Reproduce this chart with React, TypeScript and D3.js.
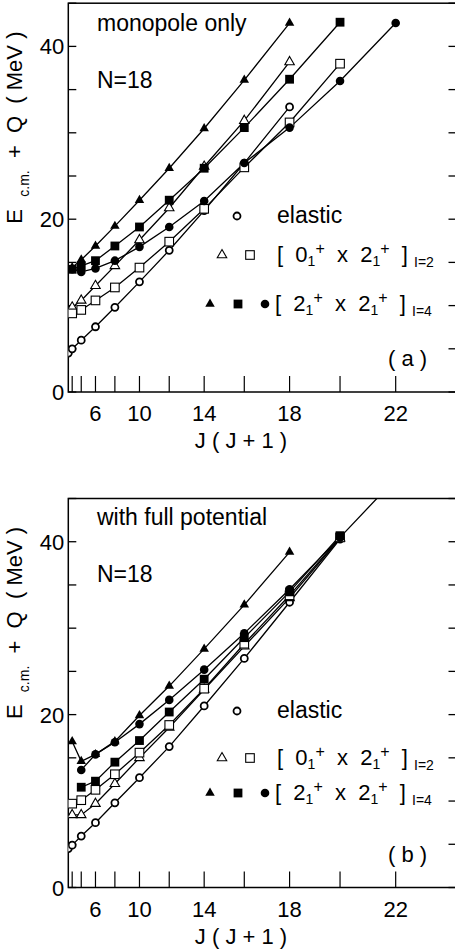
import React from "react";
import * as d3 from "d3";

// ---------- axis data ----------
const X_TICK_J = [2, 4, 6, 8, 10, 12, 14, 16, 18, 20, 22];
const X_LABEL_J = [6, 10, 14, 18, 22];
const Y_TICKS = [0, 5, 10, 15, 20, 25, 30, 35, 40, 45];
const Y_LABELS = [0, 20, 40];

// ---------- panel (a): monopole only ----------
const A_ELASTIC_J = [0, 2, 4, 6, 8, 10, 12, 14, 16, 18];
const A_ELASTIC_E = [4.5, 5.0, 6.0, 7.55, 9.8, 12.75, 16.4, 21.0, 26.5, 33.0];
const A_OPEN_TRI_J = [2, 4, 6, 8, 10, 12, 14, 16, 18];
const A_OPEN_TRI_E = [9.8, 10.6, 12.3, 14.6, 17.6, 21.3, 26.1, 31.4, 38.2];
const A_OPEN_SQ_J = [2, 4, 6, 8, 10, 12, 14, 16, 18, 20];
const A_OPEN_SQ_E = [9.1, 9.5, 10.6, 12.1, 14.4, 17.4, 21.2, 26.0, 31.2, 38.0];
const A_FILL_CIR_J = [2, 4, 6, 8, 10, 12, 14, 16, 18, 20, 22];
const A_FILL_CIR_E = [14.2, 13.9, 14.3, 15.2, 16.8, 19.1, 22.1, 26.5, 30.6, 36.0, 42.7];
const A_FILL_TRI_J = [2, 4, 6, 8, 10, 12, 14, 16, 18];
const A_FILL_TRI_E = [14.4, 15.3, 16.9, 19.2, 22.2, 25.9, 30.5, 36.1, 42.7];
const A_FILL_SQ_J = [2, 4, 6, 8, 10, 12, 14, 16, 18, 20];
const A_FILL_SQ_E = [14.2, 14.6, 15.2, 16.9, 19.1, 22.2, 25.9, 30.6, 36.2, 42.8];

// ---------- panel (b): with full potential ----------
const B_ELASTIC_J = [0, 2, 4, 6, 8, 10, 12, 14, 16, 18, 20];
const B_ELASTIC_E = [4.5, 4.9, 5.95, 7.5, 9.8, 12.7, 16.3, 21.0, 26.5, 33.0, 40.3];
const B_OPEN_TRI_J = [2, 4, 6, 8, 10, 12, 14, 16, 18, 20];
const B_OPEN_TRI_E = [8.4, 8.4, 9.7, 12.0, 15.0, 18.5, 22.9, 27.9, 33.5, 40.4];
const B_OPEN_SQ_J = [2, 4, 6, 8, 10, 12, 14, 16, 18, 20];
const B_OPEN_SQ_E = [9.7, 10.1, 11.3, 13.1, 15.6, 18.8, 23.0, 28.2, 33.8, 40.5];
const B_FILL_CIR_J = [4, 6, 8, 10, 12, 14, 16, 18, 20, 22];
const B_FILL_CIR_E = [13.6, 15.4, 16.8, 18.9, 21.7, 25.2, 29.4, 34.5, 40.5, 47.3];
const B_FILL_TRI_J = [2, 4, 6, 8, 10, 12, 14, 16, 18];
const B_FILL_TRI_E = [16.9, 14.6, 15.4, 16.9, 19.9, 23.3, 27.6, 32.7, 38.8];
const B_FILL_SQ_J = [4, 6, 8, 10, 12, 14, 16, 18, 20];
const B_FILL_SQ_E = [11.6, 12.3, 14.5, 17.0, 20.3, 24.1, 28.9, 34.2, 40.7];

type Marker = "cO" | "cF" | "tO" | "tF" | "sO" | "sF";
interface Series { js: number[]; es: number[]; m: Marker }

const FONT = "'Liberation Sans', Arial, Helvetica, sans-serif";

const xScale = d3.scaleLinear().domain([0, 600]).range([68.3, 456.5]);
const jx = (j: number) => xScale(j * (j + 1));

function Mark({ m, x, y }: { m: Marker; x: number; y: number }) {
  if (m === "cO") return <circle cx={x} cy={y} r={3.5} fill="#fff" stroke="#000" strokeWidth={1.8} />;
  if (m === "cF") return <circle cx={x} cy={y} r={4.3} fill="#000" />;
  if (m === "sO") return <rect x={x - 4.3} y={y - 4.3} width={8.6} height={8.6} fill="#fff" stroke="#000" strokeWidth={1.1} />;
  if (m === "sF") return <rect x={x - 4.4} y={y - 4.4} width={8.8} height={8.8} fill="#000" />;
  const s = 9.5;
  const h = s * 0.866;
  const d = `M${x},${y - (2 * h) / 3}L${x + s / 2},${y + h / 3}L${x - s / 2},${y + h / 3}Z`;
  if (m === "tO") return <path d={d} fill="#fff" stroke="#000" strokeWidth={1.1} />;
  return <path d={d} fill="#000" />;
}

interface Seg { t: string; size: number; shift: number }
function Rich({ x, y, segs, anchor = "start", transform }: { x: number; y: number; segs: Seg[]; anchor?: string; transform?: string }) {
  let prev = 0;
  return (
    <text x={x} y={y} fontFamily={FONT} textAnchor={anchor} transform={transform} fill="#000" style={{ whiteSpace: "pre" }}>
      {segs.map((s, i) => {
        const dy = s.shift - prev;
        prev = s.shift;
        return (
          <tspan key={i} dy={dy} fontSize={s.size}>
            {s.t}
          </tspan>
        );
      })}
    </text>
  );
}

function legendSegs(a: string, b: string, sub: string): Seg[] {
  return [
    { t: "[  " + a, size: 22, shift: 0 },
    { t: "1", size: 14, shift: 4 },
    { t: "+", size: 16, shift: -8 },
    { t: "  x  " + b, size: 22, shift: 0 },
    { t: "1", size: 14, shift: 4 },
    { t: "+", size: 16, shift: -8 },
    { t: "  ] ", size: 22, shift: 0 },
    { t: sub, size: 14, shift: 5 },
  ];
}

interface PanelProps {
  id: string;
  y0: number;
  y1: number;
  series: Series[];
  title: string;
  titleY: number;
  nY: number;
  leg: [number, number, number];
  tag: string;
  tagY: number;
}

function Panel(p: PanelProps) {
  const yScale = d3.scaleLinear().domain([0, 45]).range([p.y0, p.y1]);
  const line = d3
    .line<[number, number]>()
    .x((d) => jx(d[0]))
    .y((d) => yScale(d[1]));
  const xL = xScale(0);
  const xR = xScale(600);
  return (
    <g>
      <defs>
        <clipPath id={"clip" + p.id}>
          <rect x={xL} y={p.y1} width={xR - xL} height={p.y0 - p.y1} />
        </clipPath>
      </defs>
      <rect x={xL} y={p.y1} width={xR - xL} height={p.y0 - p.y1} fill="none" stroke="#000" strokeWidth={1.5} />
      {Y_TICKS.map((v) => (
        <g key={v}>
          <line x1={xL} x2={xL + 8} y1={yScale(v)} y2={yScale(v)} stroke="#000" strokeWidth={1.3} />
          <line x1={xR - 8} x2={xR} y1={yScale(v)} y2={yScale(v)} stroke="#000" strokeWidth={1.3} />
        </g>
      ))}
      {Y_LABELS.map((v) => (
        <text key={v} x={xL - 4} y={yScale(v) + 8} textAnchor="end" fontFamily={FONT} fontSize={22}>
          {v}
        </text>
      ))}
      {X_TICK_J.map((j) => (
        <line key={j} x1={jx(j)} x2={jx(j)} y1={p.y0} y2={p.y0 - 16} stroke="#000" strokeWidth={1.2} />
      ))}
      {X_LABEL_J.map((j) => (
        <text key={j} x={jx(j)} y={p.y0 + 29} textAnchor="middle" fontFamily={FONT} fontSize={22}>
          {j}
        </text>
      ))}
      <text x={241} y={p.y0 + 56} textAnchor="middle" fontFamily={FONT} fontSize={22} style={{ whiteSpace: "pre" }}>
        {"J ( J + 1 )"}
      </text>
      <Rich
        x={0}
        y={0}
        anchor="middle"
        transform={`translate(22,${(p.y0 + p.y1) / 2 - 70}) rotate(-90)`}
        segs={[
          { t: "E  ", size: 22, shift: 0 },
          { t: "c.m.", size: 14, shift: 7 },
          { t: "  +  Q  ( MeV )", size: 22, shift: 0 },
        ]}
      />
      <g clipPath={`url(#clip${p.id})`}>
        {p.series.map((s, i) => (
          <path
            key={i}
            d={line(s.js.map((j, k) => [j, s.es[k]] as [number, number])) || ""}
            fill="none"
            stroke="#000"
            strokeWidth={1.3}
          />
        ))}
        {p.series.map((s, i) =>
          s.js.map((j, k) => <Mark key={i + "-" + k} m={s.m} x={jx(j)} y={yScale(s.es[k])} />)
        )}
      </g>
      <text x={97} y={p.titleY} fontFamily={FONT} fontSize={23}>
        {p.title}
      </text>
      <text x={97} y={p.nY} fontFamily={FONT} fontSize={23}>
        N=18
      </text>
      <Mark m="cO" x={237} y={p.leg[0]} />
      <text x={277} y={p.leg[0] + 7} fontFamily={FONT} fontSize={23}>
        elastic
      </text>
      <Mark m="tO" x={222} y={p.leg[1]} />
      <Mark m="sO" x={250} y={p.leg[1]} />
      <Rich x={277} y={p.leg[1] + 7} segs={legendSegs("0", "2", "I=2")} />
      <Mark m="tF" x={210} y={p.leg[2]} />
      <Mark m="sF" x={238} y={p.leg[2]} />
      <Mark m="cF" x={265} y={p.leg[2]} />
      <Rich x={275} y={p.leg[2] + 7} segs={legendSegs("2", "2", "I=4")} />
      <text x={388} y={p.tagY} fontFamily={FONT} fontSize={22} style={{ whiteSpace: "pre" }}>
        {p.tag}
      </text>
    </g>
  );
}

export default function App() {
  const seriesA: Series[] = [
    { js: A_ELASTIC_J, es: A_ELASTIC_E, m: "cO" },
    { js: A_OPEN_TRI_J, es: A_OPEN_TRI_E, m: "tO" },
    { js: A_OPEN_SQ_J, es: A_OPEN_SQ_E, m: "sO" },
    { js: A_FILL_CIR_J, es: A_FILL_CIR_E, m: "cF" },
    { js: A_FILL_TRI_J, es: A_FILL_TRI_E, m: "tF" },
    { js: A_FILL_SQ_J, es: A_FILL_SQ_E, m: "sF" },
  ];
  const seriesB: Series[] = [
    { js: B_ELASTIC_J, es: B_ELASTIC_E, m: "cO" },
    { js: B_OPEN_TRI_J, es: B_OPEN_TRI_E, m: "tO" },
    { js: B_OPEN_SQ_J, es: B_OPEN_SQ_E, m: "sO" },
    { js: B_FILL_CIR_J, es: B_FILL_CIR_E, m: "cF" },
    { js: B_FILL_TRI_J, es: B_FILL_TRI_E, m: "tF" },
    { js: B_FILL_SQ_J, es: B_FILL_SQ_E, m: "sF" },
  ];
  return (
    <svg width={455} height={952} style={{ position: "absolute", left: 0, top: 0, background: "#fff" }}>
      <rect x={0} y={0} width={455} height={952} fill="#fff" />
      <Panel
        id="a"
        y0={392}
        y1={3.2}
        series={seriesA}
        title="monopole only"
        titleY={31}
        nY={88}
        leg={[216, 255, 304]}
        tag="( a )"
        tagY={366}
      />
      <Panel
        id="b"
        y0={887.5}
        y1={498.5}
        series={seriesB}
        title="with full potential"
        titleY={525}
        nY={582}
        leg={[711, 758, 793]}
        tag="( b )"
        tagY={862}
      />
    </svg>
  );
}
